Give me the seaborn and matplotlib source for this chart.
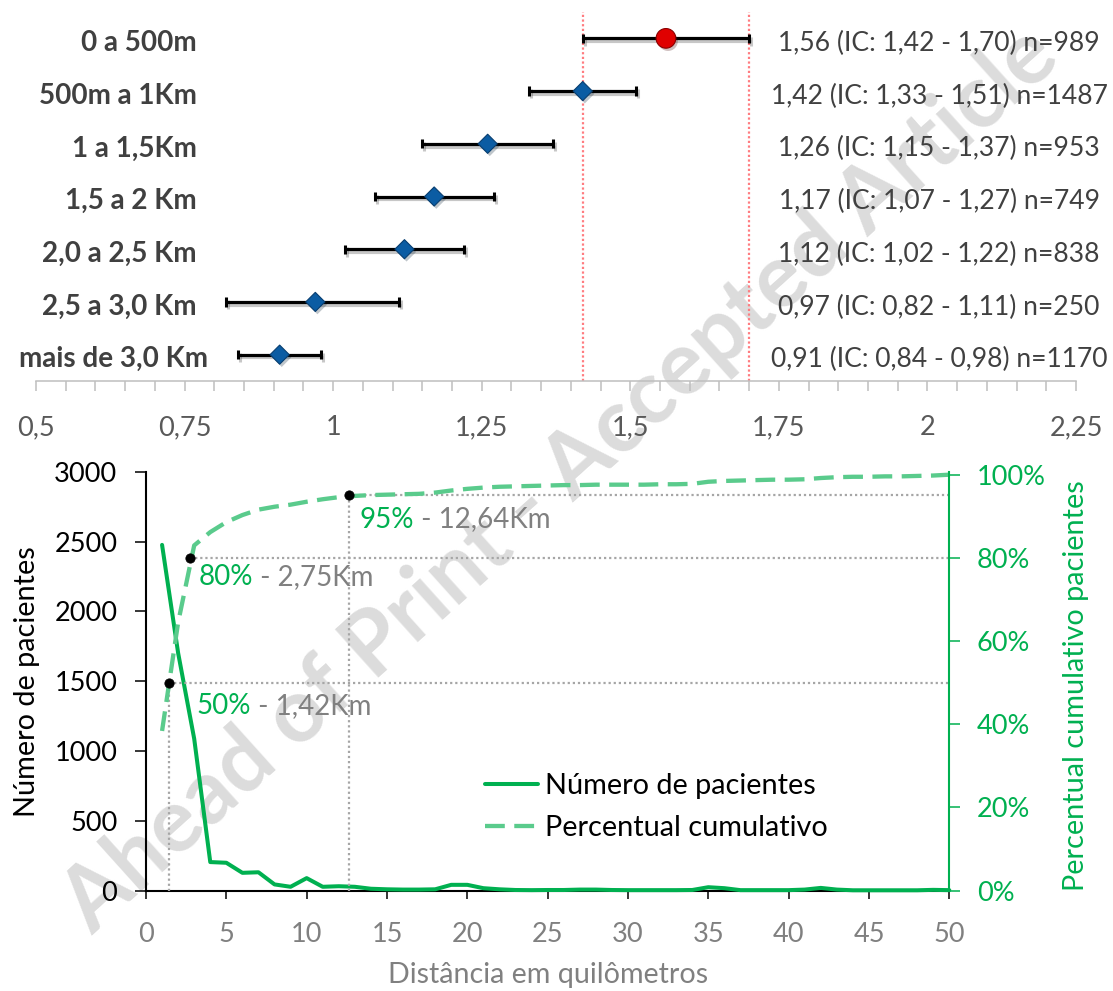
import numpy as np
import pandas as pd
import matplotlib
matplotlib.use("Agg")
import matplotlib.pyplot as plt
import matplotlib.transforms as mtransforms
from matplotlib import patheffects as pe
from matplotlib.lines import Line2D
from matplotlib.ticker import FixedLocator, MultipleLocator, FuncFormatter
import seaborn as sns

# ---------------- data ----------------
categories = ["0 a 500m", "500m a 1Km", "1 a 1,5Km", "1,5 a 2 Km",
              "2,0 a 2,5 Km", "2,5 a 3,0 Km", "mais de 3,0 Km"]
estimate = [1.56, 1.42, 1.26, 1.17, 1.12, 0.97, 0.91]
ci_low = [1.42, 1.33, 1.15, 1.07, 1.02, 0.82, 0.84]
ci_high = [1.70, 1.51, 1.37, 1.27, 1.22, 1.11, 0.98]
n_patients = [989, 1487, 953, 749, 838, 250, 1170]
forest_ticks = [0.5, 0.75, 1.0, 1.25, 1.5, 1.75, 2.0, 2.25]

distance_km = list(range(1, 51))
patients_per_km = [2476, 1702, 1088, 205, 200, 128, 132, 45, 28, 90,
                   28, 32, 28, 14, 10, 8, 8, 10, 42, 42,
                   18, 10, 5, 4, 5, 5, 8, 8, 5, 4,
                   4, 4, 4, 5, 25, 18, 4, 4, 4, 4,
                   8, 20, 8, 3, 3, 3, 3, 3, 6, 4]
cumulative_pct = [0.384, 0.645, 0.830, 0.862, 0.886, 0.903, 0.916, 0.923, 0.928, 0.935,
                  0.941, 0.946, 0.949, 0.951, 0.952, 0.953, 0.954, 0.957, 0.962, 0.966,
                  0.969, 0.971, 0.972, 0.973, 0.974, 0.975, 0.975, 0.976, 0.976, 0.976,
                  0.976, 0.977, 0.977, 0.978, 0.983, 0.985, 0.986, 0.987, 0.988, 0.988,
                  0.989, 0.992, 0.994, 0.995, 0.995, 0.996, 0.996, 0.997, 0.998, 1.000]
milestone_pct = [0.50, 0.80, 0.95]
milestone_km = [1.42, 2.75, 12.64]
count_ticks = [0, 500, 1000, 1500, 2000, 2500, 3000]
pct_ticks = [0.0, 0.2, 0.4, 0.6, 0.8, 1.0]
km_ticks = [0, 5, 10, 15, 20, 25, 30, 35, 40, 45, 50]

# ---------------- style ----------------
W, H = 1113, 991
GREEN = "#00B050"
GREEN_LIGHT = "#5ACB8C"
GRAY_TXT = "#808080"
DARK_TXT = "#404040"
label_right = [0.1548, 0.1548, 0.1548, 0.1548, 0.1548, 0.1548, 0.1654]
milestone_vline = [True, False, True]
milestone_offset_pt = [(20, -16.5), (5.8, -13.7), (7.2, -17.3)]

sns.set_theme(style="white")
plt.rcParams["font.family"] = ["Lato", "DejaVu Sans"]
plt.rcParams["axes.unicode_minus"] = False

fig = plt.figure(figsize=(W / 100, H / 100), dpi=100)
fig.patch.set_facecolor("white")


def axes_px(left, top, right, bottom):
    return fig.add_axes([left / W, 1 - bottom / H, (right - left) / W, (bottom - top) / H])


def dec(v):
    return f"{v:.2f}".replace(".", ",")


# watermark (kept fully inside the canvas)
wm = fig.text(560 / W, 1 - 480 / H, "Ahead of Print - Accepted Article", rotation=42,
              rotation_mode="anchor", ha="center", va="center", fontsize=72,
              fontweight="bold", color="#DCDCDC", zorder=-10)

# ================= forest plot =================
ax1 = axes_px(36, 12, 1076, 381)
ax1.set_facecolor("none")
forest = pd.DataFrame({"categoria": categories, "rr": estimate, "lo": ci_low,
                       "hi": ci_high, "n": n_patients})
forest["row"] = np.arange(len(forest))
forest["grupo"] = np.where(forest["row"] == 0, "ref", "cmp")

shadow = [pe.SimpleLineShadow(offset=(1.5, -2), shadow_color="black", alpha=0.22), pe.Normal()]
for r in forest.itertuples():
    eb = ax1.errorbar(r.rr, r.row, xerr=[[r.rr - r.lo], [r.hi - r.rr]], fmt="none",
                      ecolor="black", elinewidth=2.3, capsize=3.3, capthick=2.2, zorder=3)
    for art in list(eb.lines[1]) + list(eb.lines[2]):
        art.set_path_effects(shadow)

for v in (ci_low[0], ci_high[0]):
    ax1.axvline(v, color="#FF7C80", lw=1.6, ls=(0, (1, 1.1)), zorder=1)

sns.scatterplot(data=forest[forest.grupo == "cmp"], x="rr", y="row", marker="D", s=95,
                color="#0B5CA3", edgecolor="#083E70", linewidth=0.8, ax=ax1, zorder=5,
                legend=False)
sns.scatterplot(data=forest[forest.grupo == "ref"], x="rr", y="row", marker="o", s=200,
                color="#E00000", edgecolor="#8A0000", linewidth=0.8, ax=ax1, zorder=5,
                legend=False)
for coll in ax1.collections[-2:]:
    coll.set_path_effects([pe.SimplePatchShadow(offset=(1.5, -2), alpha=0.25), pe.Normal()])

ax1.set_xlim(forest_ticks[0], forest_ticks[-1])
ax1.set_ylim(len(categories) - 0.5, -0.5)
ax1.set_xlabel("")
ax1.set_ylabel("")
ax1.set_yticks([])
for s in ("left", "right", "top"):
    ax1.spines[s].set_visible(False)
ax1.spines["bottom"].set_color("#BFBFBF")
ax1.spines["bottom"].set_linewidth(1.1)
ax1.xaxis.set_major_locator(FixedLocator(forest_ticks))
ax1.xaxis.set_minor_locator(MultipleLocator(0.05))
ax1.xaxis.set_major_formatter(FuncFormatter(lambda v, p: f"{v:g}".replace(".", ",")))
ax1.tick_params(axis="x", which="both", bottom=True, direction="out", length=7.5,
                width=1.1, color="#BFBFBF")
ax1.tick_params(axis="x", which="major", labelsize=19.5, labelcolor="#595959", pad=17)

lab_tr = mtransforms.blended_transform_factory(ax1.transAxes, ax1.transData)
for r in forest.itertuples():
    ax1.text(label_right[r.row], r.row + 0.24, r.categoria, transform=lab_tr, ha="right",
             va="baseline", fontsize=20.1, fontweight="bold", color=DARK_TXT)
    ax1.text(0.8683, r.row + 0.24,
             f"{dec(r.rr)} (IC: {dec(r.lo)} - {dec(r.hi)}) n={r.n}",
             transform=lab_tr, ha="center", va="baseline", fontsize=19.05, color=DARK_TXT)

# ================= distance distribution =================
ax2 = axes_px(146, 471.7, 949.3, 890.7)
ax2.set_facecolor("none")
ax3 = ax2.twinx()
ax3.set_facecolor("none")

sns.lineplot(x=distance_km, y=patients_per_km, ax=ax2, color=GREEN, lw=2.9, legend=False)
count_line = ax2.lines[-1]
count_line.set_clip_on(False)
count_line.set_zorder(4)

sns.lineplot(x=distance_km, y=cumulative_pct, ax=ax3, color=GREEN_LIGHT, lw=3.1, legend=False)
cum_line = ax3.lines[-1]
cum_line.set_dashes([4.6, 2.2])

for p, k, vert in zip(milestone_pct, milestone_km, milestone_vline):
    ax3.plot([k, km_ticks[-1]], [p, p], color="#A6A6A6", lw=1.6, ls=(0, (1, 1.3)), zorder=1)
    if vert:
        ax3.plot([k, k], [0, p], color="#A6A6A6", lw=1.6, ls=(0, (1, 1.3)), zorder=1)
sns.scatterplot(x=milestone_km, y=milestone_pct, ax=ax3, color="black", s=45,
                edgecolor="black", zorder=6, legend=False)

for p, k, off in zip(milestone_pct, milestone_km, milestone_offset_pt):
    tp = ax3.annotate(f"{p * 100:.0f}%", xy=(k, p), xytext=off, textcoords="offset points",
                      ha="left", va="center", fontsize=20, color=GREEN)
    ax3.annotate(f" - {dec(k)}Km", xy=(1, 0.5), xycoords=tp, ha="left", va="center",
                 fontsize=20, color=GRAY_TXT)

ax2.set_xlim(km_ticks[0], km_ticks[-1])
ax2.set_ylim(count_ticks[0], count_ticks[-1])
ax2.set_xticks(km_ticks)
ax2.set_yticks(count_ticks)
ax2.tick_params(axis="y", left=True, direction="out", length=7.7, width=1.1, color="black",
                labelsize=19.5, labelcolor="black", pad=13)
ax2.tick_params(axis="x", bottom=True, direction="out", length=5.8, width=1.1, color="black",
                labelsize=19.5, labelcolor=GRAY_TXT, pad=17)
for s in ("top", "right"):
    ax2.spines[s].set_visible(False)
for s in ("left", "bottom"):
    ax2.spines[s].set_color("black")
    ax2.spines[s].set_linewidth(1.5)

ax3.set_ylim(0, 1.0072)
ax3.set_yticks(pct_ticks)
ax3.yaxis.set_major_formatter(FuncFormatter(lambda v, p: f"{v * 100:.0f}%"))
ax3.tick_params(axis="y", right=True, direction="out", length=7.8, width=1.1, color=GREEN,
                labelsize=19.5, labelcolor=GREEN, pad=12)
for s in ("top", "left", "bottom"):
    ax3.spines[s].set_visible(False)
ax3.spines["right"].set_color(GREEN)
ax3.spines["right"].set_linewidth(1.5)

ax2.set_ylabel("Número de pacientes", fontsize=20.8, color="black")
ax2.yaxis.set_label_coords(-0.132, 0.5)
ax2.set_xlabel("Distância em quilômetros", fontsize=20.6, color=GRAY_TXT)
ax2.xaxis.set_label_coords(0.5, -0.17)
ax3.set_ylabel("Percentual cumulativo pacientes", fontsize=20.8, color=GREEN)
ax3.yaxis.set_label_coords(1.1415, 0.489)
ax3.set_xlabel("")

leg_handles = [Line2D([], [], color=GREEN, lw=2.9),
               Line2D([], [], color=GREEN_LIGHT, lw=3.1, dashes=[4.6, 2.2])]
leg = ax3.legend(leg_handles, ["Número de pacientes", "Percentual cumulativo"],
                 loc="center left", bbox_to_anchor=(485 / W, 1 - 807 / H),
                 bbox_transform=fig.transFigure, frameon=False, fontsize=20.8,
                 handlelength=1.85, handletextpad=0.22, borderpad=0, borderaxespad=0,
                 labelspacing=0.55)
for t in leg.get_texts():
    t.set_color("black")

# shrink the watermark until it lies entirely inside the canvas
fig.canvas.draw()
rend = fig.canvas.get_renderer()
for _ in range(40):
    bb = wm.get_window_extent(rend)
    if bb.x0 >= 3 and bb.y0 >= 3 and bb.x1 <= W - 3 and bb.y1 <= H - 3:
        break
    wm.set_fontsize(wm.get_fontsize() * 0.97)

fig.savefig("out.png", dpi=100, facecolor="white")
